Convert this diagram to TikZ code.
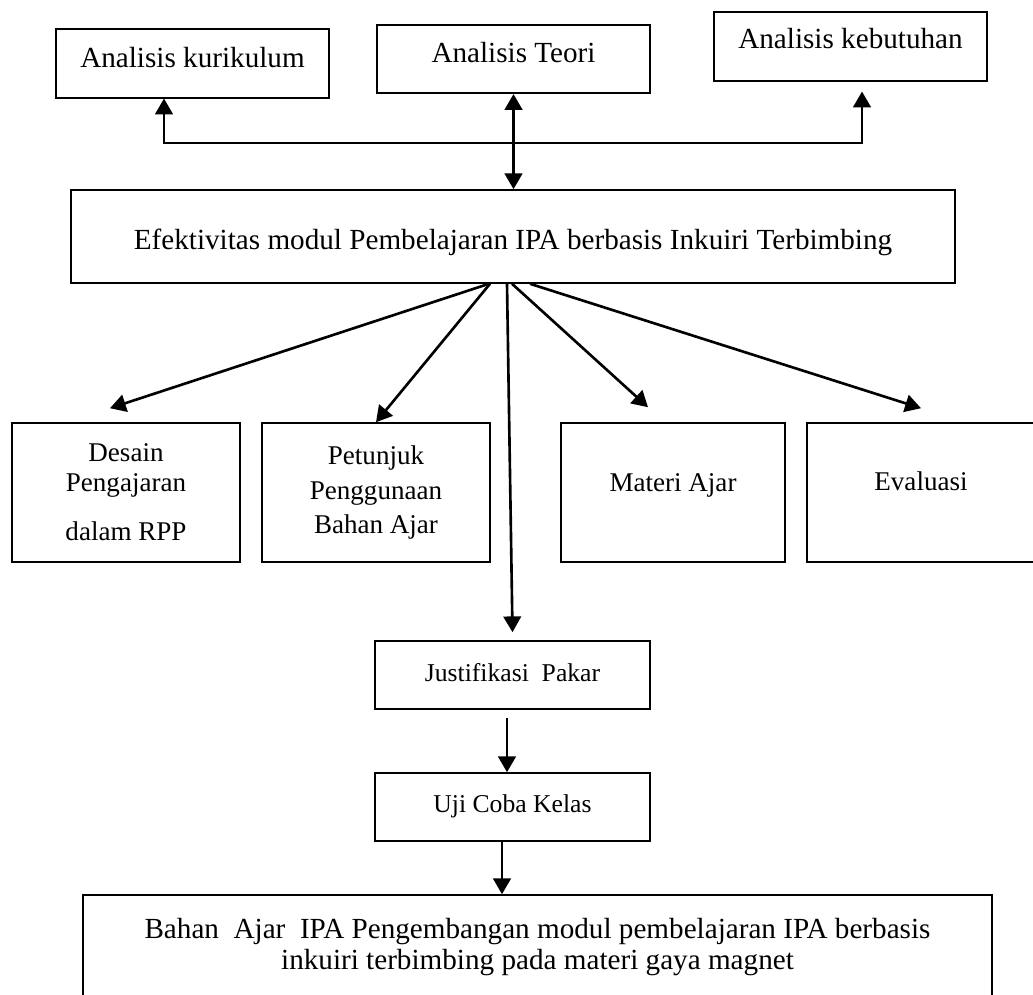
\documentclass[tikz,border=0pt]{standalone}
\usepackage{fontspec}
\setmainfont{Liberation Serif}
\usetikzlibrary{arrows.meta, calc}

\begin{document}
\begin{tikzpicture}[
  x=0.02cm, y=-0.02cm,
  >={Triangle[length=9pt, width=10pt]},
  analysis/.style={draw, line width=0.9pt, inner sep=0pt, align=center,
                   minimum width=5.46cm, minimum height=1.37cm,
                   font=\fontsize{16.6}{19}\selectfont},
  core/.style={draw, line width=0.9pt, inner sep=0pt, align=center,
               minimum width=17.68cm, minimum height=1.86cm,
               font=\fontsize{16.6}{19}\selectfont},
  part/.style={draw, line width=0.9pt, inner sep=0pt, align=center,
               minimum width=4.56cm, minimum height=2.78cm,
               font=\fontsize{15.4}{17}\selectfont},
  stage/.style={draw, line width=0.9pt, inner sep=0pt, align=center,
                minimum width=5.5cm, minimum height=1.36cm,
                font=\fontsize{14.6}{17}\selectfont},
  product/.style={draw, line width=0.9pt, inner sep=0pt, align=center,
                  minimum width=18.18cm, minimum height=2.08cm,
                  font=\fontsize{16.6}{17.5}\selectfont},
  link/.style={->, line width=1.5pt}
]
\clip (0,0) rectangle (1033,994);

% analisis awal
\node[analysis, text height=5.1pt, text depth=0pt] (kur) at (192.5,63.5) {Analisis kurikulum};
\node[analysis, text height=4.5pt, text depth=0pt] (teo) at (513.5,59) {Analisis Teori};
\node[analysis, text height=2.8pt, text depth=0pt] (keb) at (850.5,46.5) {Analisis kebutuhan};

\node[core, text height=15.3pt, text depth=0pt] (efek) at (513,236.5)
  {Efektivitas modul Pembelajaran IPA berbasis Inkuiri Terbimbing};

% komponen modul
\node[part] (rpp) at (126,492.5) {Desain\\Pengajaran\\[11pt]dalam RPP};
\node[part] (petunjuk) at (376,492.5) {Petunjuk\\[2.5pt]Penggunaan\\[2.5pt]Bahan Ajar};
\node[part, minimum width=4.48cm, text height=0pt, text depth=1pt] (materi) at (673,492.5) {Materi Ajar};
\node[part, text height=0pt, text depth=2.8pt] (evaluasi) at (921,492.5) {Evaluasi};

% validasi
\node[stage, text height=7.6pt, text depth=0pt] (pakar) at (512.5,675) {Justifikasi\ \ Pakar};
\node[stage, text height=5.7pt, text depth=0pt] (uji) at (512.5,807) {Uji Coba Kelas};
\node[product] (bahan) at (537.5,947)
  {Bahan\ \ Ajar\ \ IPA Pengembangan modul pembelajaran IPA berbasis\\inkuiri terbimbing pada materi gaya magnet};

\coordinate (simpang) at (514,143);
\draw[link, <->] (teo.south) -- (teo.south |- efek.north);
\draw[link] (simpang) -| ($(kur.south)+(-28.5,0)$);
\draw[link, shorten >=5.7pt] (simpang) -| ($(keb.south)+(11.5,0)$);

\draw[link] ($(efek.south)+(-24,0)$) -- ($(rpp.north)+(-16,-14)$);
\draw[link] ($(efek.south)+(-23,0)$) -- (petunjuk.north);
\draw[link] ($(efek.south)+(-6,0)$) -- ($(pakar.north)+(0,-8)$);
\draw[link] ($(efek.south)+(-1,0)$) -- ($(materi.north)+(-25,-15)$);
\draw[link] ($(efek.south)+(17,0)$) -- ($(evaluasi.north)+(0,-14)$);

\draw[link] ($(pakar.south)+(-5.5,8)$) -- ($(uji.north)+(-5.5,0)$);
\draw[link] ($(uji.south)+(-10.5,0)$) -- ($(bahan.north)+(-35.5,0)$);
\end{tikzpicture}
\end{document}
